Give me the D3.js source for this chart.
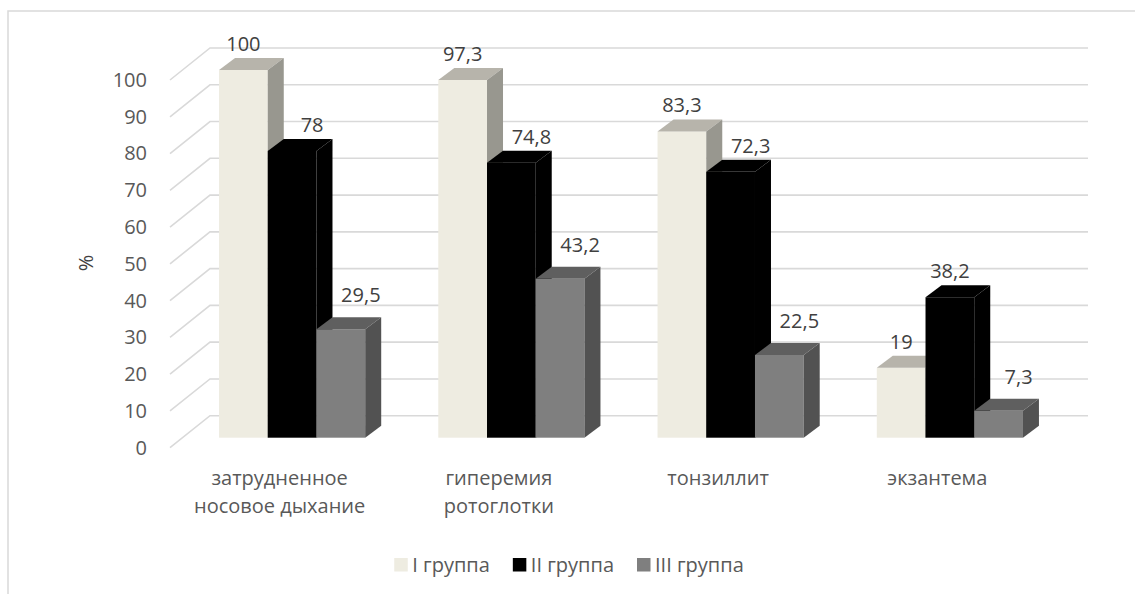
<!DOCTYPE html>
<html><head><meta charset="utf-8">
<script src="https://cdn.jsdelivr.net/npm/d3@7"></script>
<style>body{margin:0;background:#fff} svg{display:block;font-family:'Open Sans',sans-serif}</style>
</head><body><svg id="c" width="1135" height="594"></svg>
<script>
const categories = ["затрудненное носовое дыхание", "гиперемия ротоглотки", "тонзиллит", "экзантема"];
const groups = ["I группа", "II группа", "III группа"];
const group1 = [100, 97.3, 83.3, 19];
const group2 = [78, 74.8, 72.3, 38.2];
const group3 = [29.5, 43.2, 22.5, 7.3];
const yTicks = [0, 10, 20, 30, 40, 50, 60, 70, 80, 90, 100];
const series = [group1, group2, group3];

const svg = d3.select("#c");
const wallDX = 40, wallDY = 32;          // depth of the back wall
const barOffX = 12.5, barOffY = 10;      // bar front plane offset
const barDX = 16, barDY = 12;            // bar depth
const frontColors = ["#EEECE1", "#000000", "#7F7F7F"];
const topColors = ["#B7B4AB", "#000000", "#5F5F5F"];
const sideColors = ["#98978F", "#000000", "#525252"];
const grid = "#D9D9D9";

const y = d3.scaleLinear().domain([0, 100]).range([447.7, 80]);
const x0 = d3.scaleBand().domain(categories).range([170, 1047]).paddingInner(1/3).paddingOuter(1/6);
const x1 = d3.scaleBand().domain(groups).range([0, x0.bandwidth()]);
const xc = d3.scaleBand().domain(categories).range([170, 1047]);

// chart border
svg.append("path").attr("d", "M8,594V11H1135").attr("fill", "none").attr("stroke", grid).attr("stroke-width", 1.5);

// gridlines (side wall + back wall)
const g = svg.append("g");
yTicks.forEach(t => {
  const fy = y(t);
  g.append("path")
    .attr("d", `M170,${fy}L${170 + wallDX},${fy - wallDY}H1088`)
    .attr("fill", "none").attr("stroke", grid).attr("stroke-width", 1.6);
});

// y axis labels
const ax = svg.append("g").attr("transform", "translate(170,0)")
  .call(d3.axisLeft(y).tickValues(yTicks).tickSize(0).tickPadding(23));
ax.select(".domain").remove();
ax.selectAll("text").attr("font-size", 20).attr("fill", "#595959").attr("font-family", "'Open Sans',sans-serif");

// y title
svg.append("text").attr("transform", "translate(93,263) rotate(-90)")
  .attr("text-anchor", "middle").attr("font-size", 20).attr("fill", "#404040").text("%");

// bars
const fmt = v => String(v).replace(".", ",");
categories.forEach((c, ci) => {
  const bars = svg.append("g");
  series.forEach((s, si) => {
    const v = s[ci];
    const left = x0(c) + x1(groups[si]) + barOffX;
    const right = left + x1.bandwidth();
    const bottom = y(0) - barOffY;
    const top = y(v) - barOffY;
    bars.append("rect").attr("x", left).attr("y", top).attr("width", right - left).attr("height", bottom - top)
      .attr("fill", frontColors[si]);
    bars.append("path").attr("d", `M${left},${top}L${left + barDX},${top - barDY}H${right + barDX}L${right},${top}Z`)
      .attr("fill", topColors[si]);
    bars.append("path").attr("d", `M${right},${top}L${right + barDX},${top - barDY}V${bottom - barDY}L${right},${bottom}Z`)
      .attr("fill", sideColors[si]);
  });
  // labels
  series.forEach((s, si) => {
    const v = s[ci];
    const left = x0(c) + x1(groups[si]) + barOffX;
    let cx = left + x1.bandwidth() / 2;
    const prev = si > 0 ? series[si - 1][ci] : -1;
    if (prev > v) cx += 20;
    const backTop = y(v) - barOffY - barDY;
    const lift = si === 2 ? 15 : 7;
    svg.append("text").attr("x", cx).attr("y", backTop - lift).attr("text-anchor", "middle")
      .attr("font-size", 20).attr("fill", "#404040").text(fmt(v));
  });
});

// category labels
const maxW = xc.bandwidth() * 0.9;
categories.forEach(c => {
  const cx = xc(c) + xc.bandwidth() / 2;
  const words = c.split(" ");
  const lines = [];
  let cur = "";
  const probe = svg.append("text").attr("font-size", 20);
  words.forEach(w => {
    const t = cur ? cur + " " + w : w;
    probe.text(t);
    if (probe.node().getComputedTextLength() > maxW && cur) { lines.push(cur); cur = w; }
    else cur = t;
  });
  lines.push(cur);
  probe.remove();
  const t = svg.append("text").attr("text-anchor", "middle").attr("font-size", 20).attr("fill", "#595959");
  lines.forEach((l, i) => t.append("tspan").attr("x", cx).attr("y", 485 + i * 27.7).text(l));
});

// legend
const lg = svg.append("g");
let lx = 0;
const items = [];
groups.forEach((name, i) => {
  const it = lg.append("g").attr("transform", `translate(${lx},0)`);
  it.append("rect").attr("x", 0).attr("y", 558).attr("width", 13.5).attr("height", 13.5).attr("fill", frontColors[i]);
  const tx = it.append("text").attr("x", 18).attr("y", 572).attr("font-size", 20).attr("fill", "#595959").text(name);
  const w = 18 + tx.node().getComputedTextLength();
  lx += w + 23;
});
const totalW = lx - 23;
lg.attr("transform", `translate(${569 - totalW / 2},0)`);
</script>
</body></html>
